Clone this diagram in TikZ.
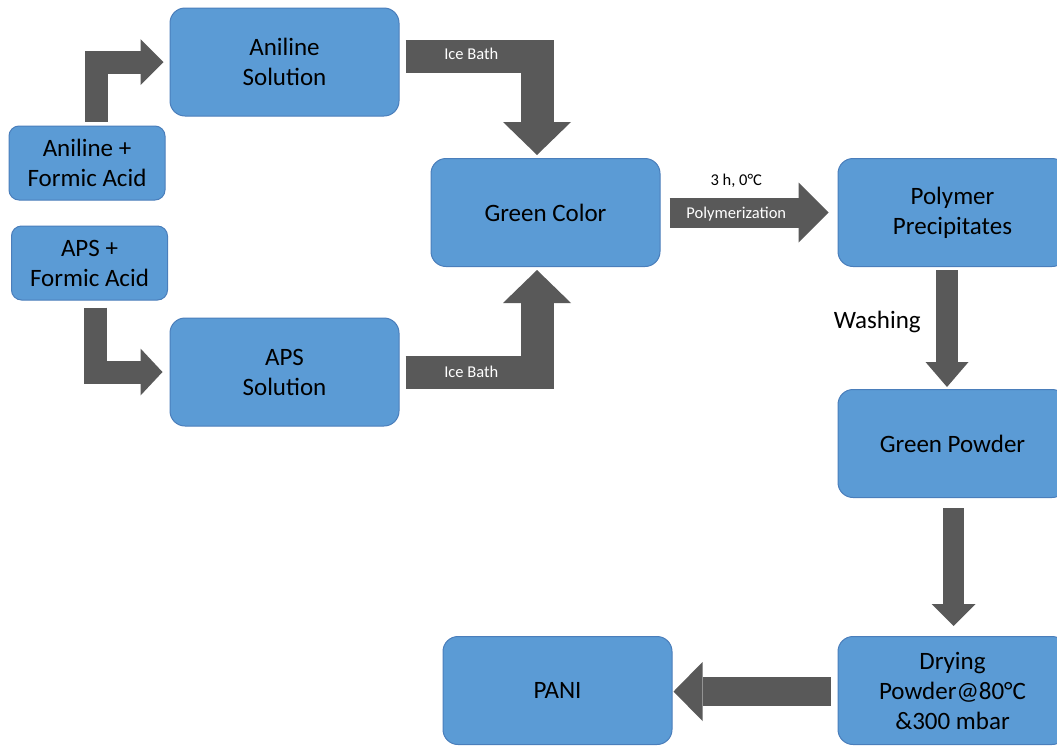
\documentclass[tikz,border=0pt]{standalone}
\usepackage{fontspec}
\setmainfont{Carlito}
\usetikzlibrary{arrows.meta}

\definecolor{boxblue}{HTML}{5B9BD5}
\definecolor{boxedge}{HTML}{4A7EBB}
\definecolor{arrowgray}{HTML}{595959}

\tikzset{
    procbox/.style={draw=boxedge, line width=1pt, fill=boxblue, rounded corners=15pt,
        minimum width=229pt, minimum height=108pt, inner sep=0pt, align=center,
        font=\fontsize{25}{30}\selectfont},
    smallbox/.style={procbox, minimum width=156pt, minimum height=74pt, rounded corners=10pt},
    blockarrow/.style n args={3}{draw=arrowgray, line width=#1, line join=miter,
        -{Triangle[width=#2, length=#3, line width=0pt]}},
    arrowlabel/.style={text=white, font=\fontsize{16.5}{20}\selectfont},
}

\begin{document}
\begin{tikzpicture}[x=1pt,y=-1pt]
    \useasboundingbox (0,0) rectangle (1057,745);

    \node[smallbox] (anifa) at (87,163) {Aniline +\\Formic Acid};
    \node[smallbox] (apsfa) at (89.5,263) {APS +\\Formic Acid};
    \node[procbox] (anisol) at (284.5,62) {Aniline\\Solution};
    \node[procbox] (apssol) at (284.5,372) {APS\\Solution};
    \node[procbox] (green) at (545.5,212.5) {Green Color};
    \node[procbox] (polymer) at (952.5,212.5) {Polymer\\Precipitates};
    \node[procbox] (powder) at (952.5,443.5) {Green Powder};
    \node[procbox] (drying) at (952.5,690.5) {Drying\\Powder@80°C\\\&300 mbar};
    \node[procbox] (pani) at (557.5,690.5) {PANI};

    \draw[blockarrow={23pt}{46pt}{23pt}] ([xshift=9pt,yshift=4pt]anifa.north) |- ([xshift=-6pt]anisol.west);
    \draw[blockarrow={23pt}{47pt}{22pt}] ([xshift=6pt,yshift=-7pt]apsfa.south) |- ([xshift=-7pt]apssol.west);

    \draw[blockarrow={33pt}{68pt}{33pt}] ([xshift=6pt,yshift=5.5pt]anisol.east) -| ([xshift=-8.5pt,yshift=3pt]green.north)
        node[arrowlabel, pos=0.25, yshift=3pt] {Ice Bath};
    \draw[blockarrow={33pt}{68pt}{33pt}] ([xshift=6pt]apssol.east) -| ([xshift=-8.5pt,yshift=-3pt]green.south)
        node[arrowlabel, pos=0.25] {Ice Bath};

    \draw[blockarrow={30pt}{60pt}{30pt}] ([xshift=9pt]green.east) -- ([xshift=-9pt]polymer.west)
        node[arrowlabel, pos=0.42, yshift=-2pt] {Polymerization}
        node[arrowlabel, text=black, pos=0.42, yshift=32pt] {3 h, 0°C};
    \draw[blockarrow={22pt}{43pt}{25pt}] ([xshift=-5.5pt,yshift=-3pt]polymer.south) -- ([xshift=-5.5pt,yshift=2pt]powder.north)
        node[pos=0.43, left=12pt, yshift=-2pt, font=\fontsize{25}{30}\selectfont] {Washing};
    \draw[blockarrow={21pt}{44pt}{22pt}] ([xshift=1pt,yshift=-10pt]powder.south) -- ([xshift=1pt,yshift=10pt]drying.north);
    \draw[blockarrow={29pt}{59pt}{29pt}] ([xshift=-7pt,yshift=-1pt]drying.west) -- ([xshift=1pt,yshift=-1pt]pani.east);
\end{tikzpicture}
\end{document}
